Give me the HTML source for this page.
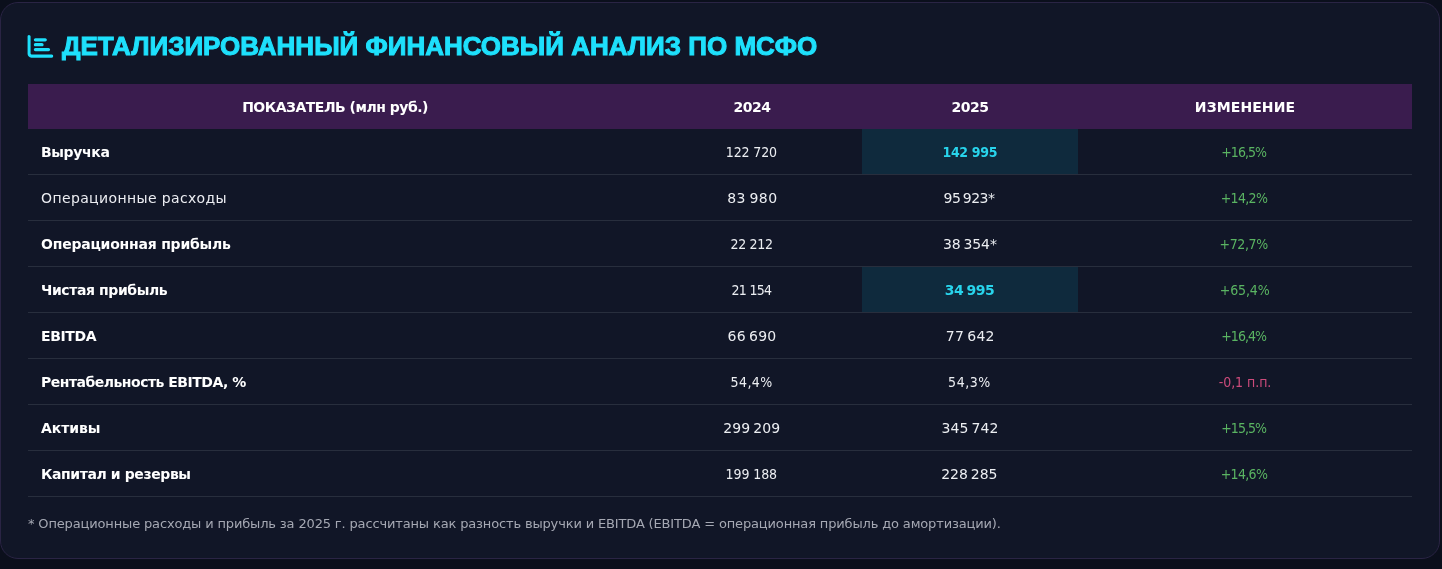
<!DOCTYPE html>
<html lang="ru">
<head>
<meta charset="utf-8">
<style>
html,body{margin:0;padding:0;}
body{width:1442px;height:569px;background:#0b0f1c;overflow:hidden;position:relative;font-family:"DejaVu Sans","Liberation Sans",sans-serif;}
.card{position:absolute;left:0;top:2px;width:1440px;height:557px;box-sizing:border-box;border:1px solid #2a2444;border-radius:18px;background:#111627;will-change:transform;}
.title{position:absolute;left:27px;top:27.4px;height:32px;display:flex;align-items:center;color:#1ee0fc;font-family:"Liberation Sans",sans-serif;font-weight:bold;font-size:26px;white-space:nowrap;-webkit-text-stroke:1px #1ee0fc;}
.title svg{display:block;width:26px;height:26px;margin-right:8px;position:relative;left:-1px;top:0px;transform:translate(0.35px,0.3px);}
table{position:absolute;left:27px;top:81px;border-collapse:collapse;table-layout:fixed;width:1384px;}
th{background:#3a1c4e;color:#fff;font-weight:bold;font-size:14px;height:45px;padding:0;text-align:center;letter-spacing:-0.5px;}
td{height:45px;padding:0;border-bottom:1px solid #282e3d;font-size:14px;color:#eceef2;text-align:center;white-space:nowrap;}
td.l{text-align:left;padding-left:13px;color:#ecedf2;}
td.b{font-weight:bold;color:#fff;}
td.n{font-family:"DejaVu Sans",sans-serif;word-spacing:-1.5px;}
td.hl{background:#0f2a3d;color:#28d4ec;font-weight:bold;}
td.g{color:#5ab462;}
td.r{color:#cc4b7b;}
.foot{position:absolute;left:27px;top:513px;font-size:13px;color:#a5a8b3;white-space:nowrap;letter-spacing:-0.15px;}
</style>
</head>
<body>
<div class="card">
<div class="title"><svg viewBox="0 0 512 512"><path fill="#1ee0fc" d="M32 32c17.7 0 32 14.3 32 32V400c0 8.8 7.2 16 16 16H480c17.7 0 32 14.3 32 32s-14.3 32-32 32H80c-44.2 0-80-35.8-80-80V64C0 46.3 14.3 32 32 32zm96 96c0-17.7 14.3-32 32-32l192 0c17.7 0 32 14.3 32 32s-14.3 32-32 32l-192 0c-17.7 0-32-14.3-32-32zm32 64H288c17.7 0 32 14.3 32 32s-14.3 32-32 32H160c-17.7 0-32-14.3-32-32s14.3-32 32-32zm0 96H416c17.7 0 32 14.3 32 32s-14.3 32-32 32H160c-17.7 0-32-14.3-32-32s14.3-32 32-32z"/></svg>ДЕТАЛИЗИРОВАННЫЙ ФИНАНСОВЫЙ АНАЛИЗ ПО МСФО</div>
<table>
<colgroup><col style="width:614px"><col style="width:220px"><col style="width:216px"><col style="width:334px"></colgroup>
<thead><tr><th>ПОКАЗАТЕЛЬ (млн руб.)</th><th>2024</th><th>2025</th><th style="letter-spacing:0.1px">ИЗМЕНЕНИЕ</th></tr></thead>
<tbody>
<tr><td class="l b" style="letter-spacing:-0.36px">Выручка</td><td class="n" style="letter-spacing:-0.12px;font-family:&quot;DejaVu Sans Condensed&quot;,sans-serif;word-spacing:0"><span style="position:relative;left:-0.60px">122 720</span></td><td class="n hl" style="letter-spacing:-0.32px;font-family:&quot;DejaVu Sans Condensed&quot;,sans-serif;word-spacing:0"><span style="position:relative;left:-0.20px">142 995</span></td><td class="n g" style="letter-spacing:-0.94px;font-family:&quot;DejaVu Sans Condensed&quot;,sans-serif;word-spacing:0"><span style="position:relative;left:-1.30px">+16,5%</span></td></tr>
<tr><td class="l" style="letter-spacing:0.37px">Операционные расходы</td><td class="n" style="letter-spacing:0.48px"><span style="position:relative;left:0.40px">83 980</span></td><td class="n" style="letter-spacing:-0.50px"><span style="position:relative;left:-1.00px">95 923*</span></td><td class="n g" style="letter-spacing:-0.66px;font-family:&quot;DejaVu Sans Condensed&quot;,sans-serif;word-spacing:0"><span style="position:relative;left:-1.00px">+14,2%</span></td></tr>
<tr><td class="l b" style="letter-spacing:-0.22px">Операционная прибыль</td><td class="n" style="letter-spacing:-0.28px;font-family:&quot;DejaVu Sans Condensed&quot;,sans-serif;word-spacing:0"><span style="position:relative;left:-0.40px">22 212</span></td><td class="n" style="letter-spacing:-0.10px"><span style="position:relative;left:-0.10px">38 354*</span></td><td class="n g" style="letter-spacing:-0.38px;font-family:&quot;DejaVu Sans Condensed&quot;,sans-serif;word-spacing:0"><span style="position:relative;left:-1.30px">+72,7%</span></td></tr>
<tr><td class="l b" style="letter-spacing:-0.4px">Чистая прибыль</td><td class="n" style="letter-spacing:-0.70px;font-family:&quot;DejaVu Sans Condensed&quot;,sans-serif;word-spacing:0"><span style="position:relative;left:-0.50px">21 154</span></td><td class="n hl" style="letter-spacing:-0.40px"><span style="position:relative;left:-0.40px">34 995</span></td><td class="n g" style="letter-spacing:-0.14px;font-family:&quot;DejaVu Sans Condensed&quot;,sans-serif;word-spacing:0"><span style="position:relative;left:-0.40px">+65,4%</span></td></tr>
<tr><td class="l b" style="letter-spacing:-0.38px">EBITDA</td><td class="n" style="letter-spacing:0.24px">66 690</td><td class="n" style="letter-spacing:0.24px"><span style="position:relative;left:0.30px">77 642</span></td><td class="n g" style="letter-spacing:-0.94px;font-family:&quot;DejaVu Sans Condensed&quot;,sans-serif;word-spacing:0"><span style="position:relative;left:-1.30px">+16,4%</span></td></tr>
<tr><td class="l b" style="letter-spacing:-0.5px">Рентабельность EBITDA, %</td><td class="n" style="letter-spacing:0.40px;font-family:&quot;DejaVu Sans Condensed&quot;,sans-serif;word-spacing:0"><span style="position:relative;left:-0.40px">54,4%</span></td><td class="n" style="letter-spacing:0.55px;font-family:&quot;DejaVu Sans Condensed&quot;,sans-serif;word-spacing:0"><span style="position:relative;left:-0.50px">54,3%</span></td><td class="n r" style="letter-spacing:-0.05px;font-family:&quot;DejaVu Sans Condensed&quot;,sans-serif;word-spacing:0">-0,1 п.п.</td></tr>
<tr><td class="l b" style="letter-spacing:-0.08px">Активы</td><td class="n" style="letter-spacing:0.07px"><span style="position:relative;left:-0.20px">299 209</span></td><td class="n" style="letter-spacing:0.07px">345 742</td><td class="n g" style="letter-spacing:-0.94px;font-family:&quot;DejaVu Sans Condensed&quot;,sans-serif;word-spacing:0"><span style="position:relative;left:-1.30px">+15,5%</span></td></tr>
<tr><td class="l b" style="letter-spacing:-0.4px">Капитал и резервы</td><td class="n" style="letter-spacing:-0.08px;font-family:&quot;DejaVu Sans Condensed&quot;,sans-serif;word-spacing:0"><span style="position:relative;left:-0.70px">199 188</span></td><td class="n" style="letter-spacing:-0.03px"><span style="position:relative;left:-0.70px">228 285</span></td><td class="n g" style="letter-spacing:-0.66px;font-family:&quot;DejaVu Sans Condensed&quot;,sans-serif;word-spacing:0"><span style="position:relative;left:-1.00px">+14,6%</span></td></tr>
</tbody>
</table>
<div class="foot">* Операционные расходы и прибыль за 2025 г. рассчитаны как разность выручки и EBITDA (EBITDA = операционная прибыль до амортизации).</div>
</div>
</body>
</html>
